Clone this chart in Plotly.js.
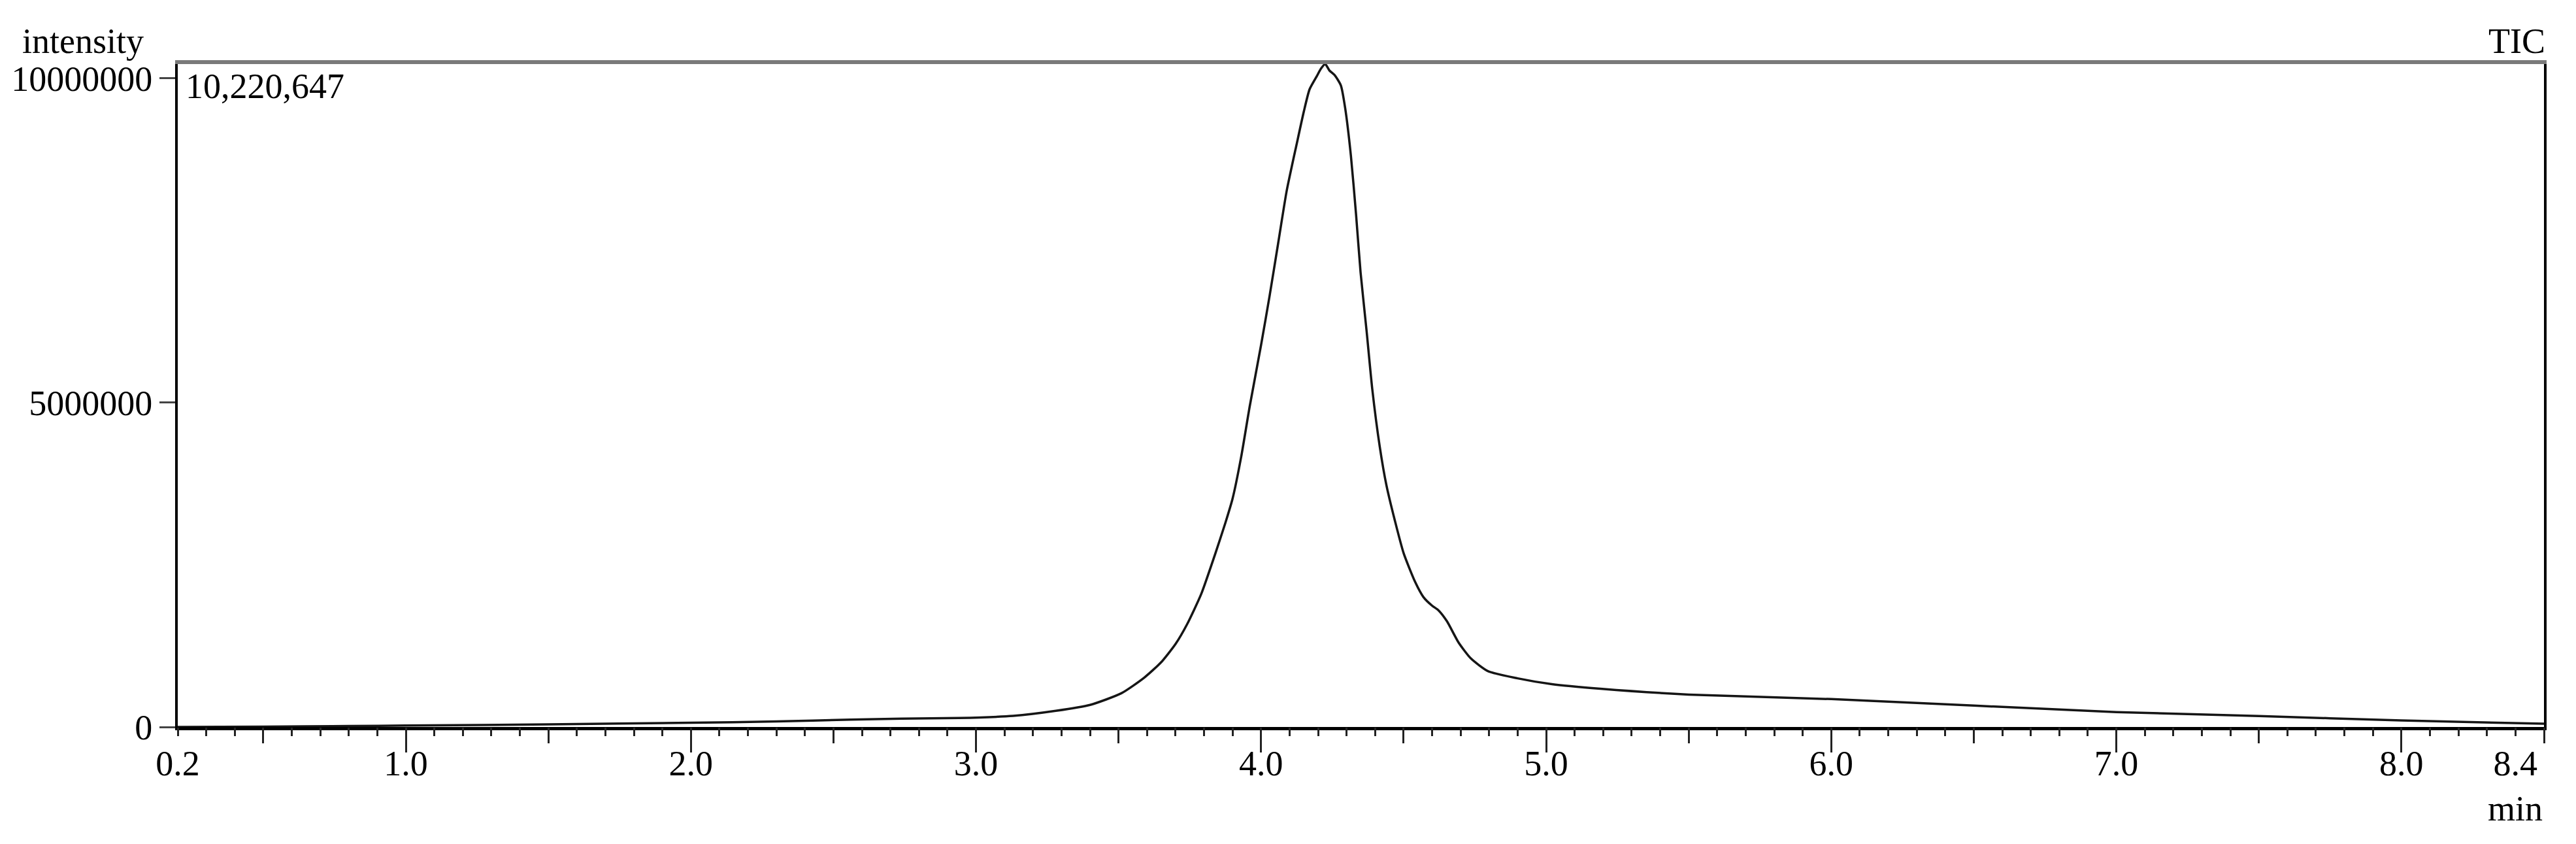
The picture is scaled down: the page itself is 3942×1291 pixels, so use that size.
<!DOCTYPE html>
<html>
<head>
<meta charset="utf-8">
<script src="https://cdn.plot.ly/plotly-3.0.1.min.js"></script>
<style>
  html, body { margin: 0; padding: 0; background: #fff; }
  #graph { width: 3942px; height: 1291px; }
</style>
</head>
<body>
<div id="graph"></div>
<script>
// retention time (min) and TIC intensity
var tempo = [0.20, 0.50, 0.80, 1.00, 1.50, 2.00, 2.30, 2.56, 2.74, 2.94,
             3.13, 3.28, 3.40, 3.51, 3.59, 3.65, 3.70, 3.74, 3.79, 3.84,
             3.875, 3.90, 3.93, 3.96, 4.00, 4.03, 4.06, 4.09, 4.125, 4.15,
             4.17, 4.195, 4.21, 4.225, 4.24, 4.258, 4.28, 4.295, 4.315, 4.333,
             4.349, 4.37, 4.39, 4.416, 4.44, 4.47, 4.50, 4.54, 4.57, 4.60,
             4.622, 4.652, 4.693, 4.735, 4.796, 4.90, 5.02, 5.19, 5.50, 6.00,
             6.50, 7.00, 7.50, 8.00, 8.50];
var intensidade = [0, 5000, 15000, 22000, 40000, 65000, 85000, 114000, 128000, 138000,
                   171000, 249000, 340000, 520000, 760000, 1000000, 1280000, 1580000, 2050000, 2680000,
                   3150000, 3520000, 4160000, 4940000, 5890000, 6650000, 7460000, 8270000, 8990000, 9490000,
                   9830000, 10030000, 10150000, 10220647, 10120000, 10050000, 9890000, 9540000, 8810000, 7910000,
                   7010000, 6110000, 5210000, 4330000, 3720000, 3170000, 2680000, 2240000, 2000000, 1870000,
                   1800000, 1630000, 1300000, 1060000, 860000, 750000, 660000, 590000, 500000, 430000,
                   330000, 230000, 170000, 100000, 50000];

var picoMax = 10220647;
var xRange = [0.2, 8.5];

// rótulos dos eixos
var xLabelVals = [0.2, 1, 2, 3, 4, 5, 6, 7, 8, 8.4];
var xLabelText = ["0.2", "1.0", "2.0", "3.0", "4.0", "5.0", "6.0", "7.0", "8.0", "8.4"];
var yLabelVals = [0, 5000000, 10000000];
var yLabelText = ["0", "5000000", "10000000"];

var fonte = { family: "Liberation Serif, Times New Roman, serif", size: 54, color: "#000" };

var trace = {
    x: tempo,
    y: intensidade,
    type: "scatter",
    mode: "lines",
    line: { color: "#151515", width: 3.5, shape: "spline", smoothing: 0.6 },
    hoverinfo: "skip"
};

// traço invisível só para que os eixos sobrepostos sejam desenhados
function ghost(eixo) {
    return { x: tempo, y: intensidade, xaxis: eixo, type: "scatter", mode: "lines",
             opacity: 0, line: { width: 0 }, hoverinfo: "skip" };
}

// eixos só com marcas (0.1, 0.5 e 1.0 min)
function tickAxis(tick0, dtick, len) {
    return {
        overlaying: "x", anchor: "y", range: xRange,
        tickmode: "linear", tick0: tick0, dtick: dtick,
        ticks: "outside", ticklen: len, tickwidth: 3, tickcolor: "#222",
        showticklabels: false, showgrid: false, zeroline: false, showline: false
    };
}

var layout = {
    width: 3942,
    height: 1291,
    autosize: false,
    margin: { l: 272, r: 49, t: 98, b: 179 },
    paper_bgcolor: "#fff",
    plot_bgcolor: "#fff",
    showlegend: false,
    font: fonte,
    xaxis: {
        range: xRange,
        tickmode: "array",
        tickvals: xLabelVals,
        ticktext: xLabelText,
        ticks: "outside", ticklen: 4, tickcolor: "rgba(0,0,0,0)",
        tickfont: fonte,
        showline: true, linecolor: "#000", linewidth: 5,
        showgrid: false, zeroline: false
    },
    xaxis2: tickAxis(0.2, 0.1, 13),
    xaxis3: tickAxis(0, 0.5, 24),
    xaxis4: tickAxis(0, 1, 38),
    xaxis5: {
        overlaying: "x", anchor: "y", side: "top", range: xRange,
        showline: true, linecolor: "#7a7a7a", linewidth: 6,
        ticks: "", showticklabels: false, showgrid: false, zeroline: false
    },
    yaxis: {
        range: [0, picoMax],
        tickmode: "array",
        tickvals: yLabelVals,
        ticktext: yLabelText,
        ticks: "outside", ticklen: 24, tickwidth: 3, tickcolor: "#444",
        tickfont: fonte,
        showline: true, linecolor: "#000", linewidth: 4, mirror: true,
        showgrid: false, zeroline: false
    },
    annotations: [
        { text: "intensity", xref: "paper", yref: "paper", x: 0, y: 1,
          xanchor: "center", yanchor: "middle", xshift: -145, yshift: 35,
          showarrow: false, font: fonte },
        { text: "TIC", xref: "paper", yref: "paper", x: 1, y: 1,
          xanchor: "right", yanchor: "middle", xshift: 4, yshift: 35,
          showarrow: false, font: fonte },
        { text: "10,220,647", xref: "paper", yref: "paper", x: 0, y: 1,
          xanchor: "left", yanchor: "middle", xshift: 10, yshift: -34,
          showarrow: false, font: fonte },
        { text: "min", xref: "x", yref: "paper", x: 8.4, y: 0,
          xanchor: "center", yanchor: "middle", yshift: -125,
          showarrow: false, font: fonte }
    ]
};

var data = [ghost("x2"), ghost("x3"), ghost("x4"), ghost("x5"), trace];

Plotly.newPlot("graph", data, layout, { displayModeBar: false, staticPlot: true });
</script>
</body>
</html>
